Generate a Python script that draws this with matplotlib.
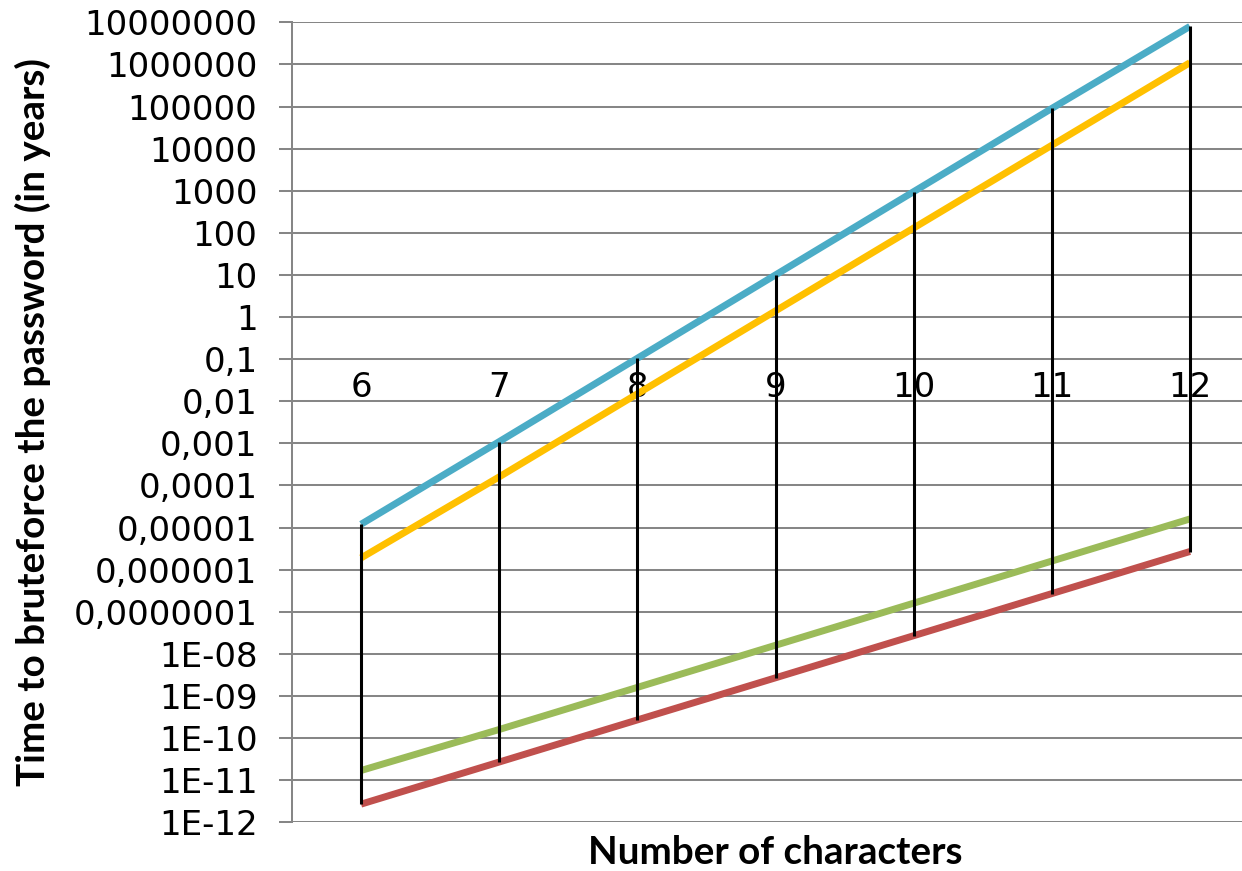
import matplotlib
matplotlib.use("Agg")
import matplotlib.pyplot as plt
from matplotlib.ticker import FixedLocator, FixedFormatter, NullLocator

# ---- data ----
characters = [6, 7, 8, 9, 10, 11, 12]
series_blue = [1.2e-5, 1.1e-3, 0.105, 10.0, 950.0, 9.0e4, 8.0e6]
series_orange = [1.9e-6, 1.6e-4, 0.015, 1.4, 130.0, 1.2e4, 1.1e6]
series_green = [1.7e-11, 1.6e-10, 1.6e-9, 1.6e-8, 1.6e-7, 1.6e-6, 1.6e-5]
series_red = [2.7e-12, 2.7e-11, 2.7e-10, 2.7e-9, 2.7e-8, 2.7e-7, 2.7e-6]

y_tick_values = [1e7, 1e6, 1e5, 1e4, 1e3, 1e2, 1e1, 1, 1e-1, 1e-2, 1e-3, 1e-4,
                 1e-5, 1e-6, 1e-7, 1e-8, 1e-9, 1e-10, 1e-11, 1e-12]
y_tick_labels = ["10000000", "1000000", "100000", "10000", "1000", "100", "10", "1",
                 "0,1", "0,01", "0,001", "0,0001", "0,00001", "0,000001", "0,0000001",
                 "1E-08", "1E-09", "1E-10", "1E-11", "1E-12"]
x_title = "Number of characters"
y_title = "Time to bruteforce the password (in years)"

# ---- figure ----
W, H = 1242, 871
fig = plt.figure(figsize=(W / 100, H / 100), dpi=100)

left_px, right_px = 292.0, 1259.0
top_px, bottom_px = 22.3, 822.3
ax = fig.add_axes([left_px / W, 1 - bottom_px / H,
                   (right_px - left_px) / W, (bottom_px - top_px) / H])

grid_c = "#868686"
colors = {"blue": "#4BACC6", "orange": "#FFC000", "green": "#9BBB59", "red": "#C0504D"}

ax.set_yscale("log")
ax.set_ylim(1e-12, 1e7)
ax.set_xlim(characters[0] - 0.5, characters[-1] + 0.5)

for vals, c in [(series_red, colors["red"]), (series_green, colors["green"]),
                (series_orange, colors["orange"]), (series_blue, colors["blue"])]:
    ax.plot(characters, vals, color=c, lw=5.0, solid_capstyle="butt", zorder=2)

# drop / high-low lines
all_series = [series_blue, series_orange, series_green, series_red]
highs = [max(s[i] for s in all_series) for i in range(len(characters))]
lows = [min(s[i] for s in all_series) for i in range(len(characters))]
ax.vlines(characters, lows, highs, color="black", lw=2.2, zorder=3)

tick_font = ["DejaVu Sans"]

# y axis
ax.yaxis.set_major_locator(FixedLocator(y_tick_values))
ax.yaxis.set_major_formatter(FixedFormatter(y_tick_labels))
ax.yaxis.set_minor_locator(NullLocator())
ax.tick_params(axis="y", which="major", direction="out", length=9.4, width=1.45,
               color=grid_c, pad=15.5, labelsize=24.5, labelcolor="black")
ax.grid(axis="y", which="major", color=grid_c, lw=1.45)
ax.set_axisbelow(True)

# x axis crossing at 0.1
ax.set_xticks(characters)
ax.set_xticklabels([str(c) for c in characters])
ax.spines["bottom"].set_position(("data", 0.1))
ax.spines["bottom"].set_visible(False)
ax.tick_params(axis="x", length=0, pad=8.5, labelsize=24.5, labelcolor="black")
for lab in ax.get_xticklabels() + ax.get_yticklabels():
    lab.set_fontfamily(tick_font)

for s in ["top", "right"]:
    ax.spines[s].set_visible(False)
ax.spines["left"].set_color(grid_c)
ax.spines["left"].set_linewidth(1.45)

font_bold = {"family": ["Lato", "DejaVu Sans"], "weight": "bold", "size": 27.8}
ax.set_xlabel(x_title, fontdict=font_bold, va="center")
ax.xaxis.set_label_coords(0.5, -0.038)
ax.set_ylabel(y_title, fontdict=font_bold, va="center")
ax.yaxis.set_label_coords((33 - left_px) / (right_px - left_px), 0.5)

fig.savefig("out.png", dpi=100)
